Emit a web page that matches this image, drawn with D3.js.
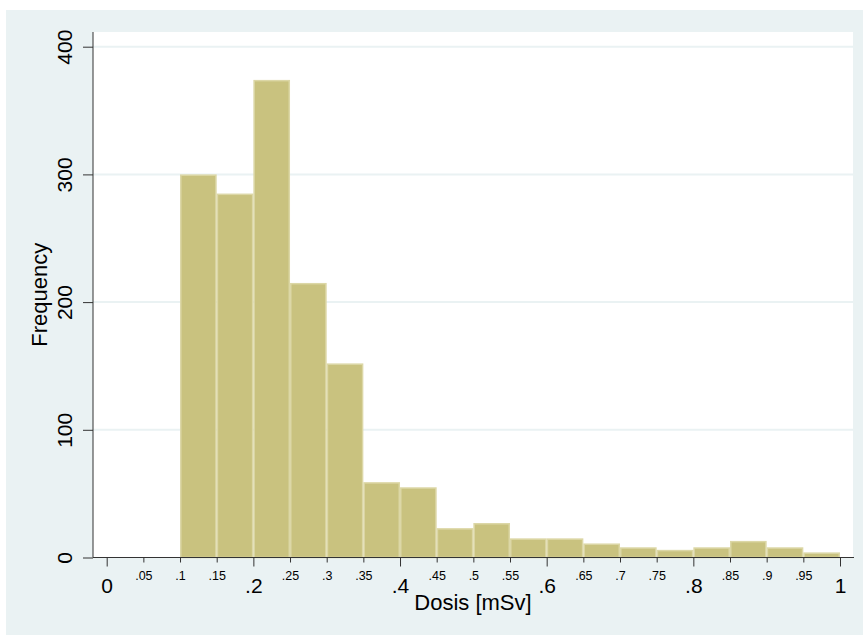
<!DOCTYPE html>
<meta charset="utf-8">
<style>
body { margin: 0; background: #fff; }
text { font-family: "Liberation Sans", Arial, sans-serif; }
</style>
<body>
<script src="https://cdn.jsdelivr.net/npm/d3@7"></script>
<script>
// histogram bins (lower edge, width .05) and counts
var binLo = [0.10, 0.15, 0.20, 0.25, 0.30, 0.35, 0.40, 0.45, 0.50,
             0.55, 0.60, 0.65, 0.70, 0.75, 0.80, 0.85, 0.90, 0.95];
var freq  = [300, 285, 374, 215, 152, 59, 55, 23, 27,
             15, 15, 11, 8, 6, 8, 13, 8, 4];
var binW = 0.05;

var yTicks = [0, 100, 200, 300, 400];
var xMajor = [0, 0.2, 0.4, 0.6, 0.8, 1];
var xMinor = [0.05, 0.1, 0.15, 0.25, 0.3, 0.35, 0.45, 0.5, 0.55,
              0.65, 0.7, 0.75, 0.85, 0.9, 0.95];

var width = 863,
	height = 635,
	plotL = 93,
	plotR = 853,
	plotT = 32,
	plotB = 557.5;

var fmt = function(d) { return d == 0 ? "0" : d == 1 ? "1" : String(d).replace(/^0/, ""); };

var x = d3.scaleLinear().domain([0, 1]).range([106.7, 840]);
var y = d3.scaleLinear().domain([0, 400]).range([plotB, 46.7]);

var svg = d3.select("body").append("svg")
	.attr("width", width)
	.attr("height", height);

// graph region
svg.append("rect")
	.attr("x", 6).attr("y", 10)
	.attr("width", width - 6).attr("height", height - 10)
	.style("fill", "#eaf2f3");

// plot region
svg.append("rect")
	.attr("x", plotL).attr("y", plotT)
	.attr("width", plotR - plotL).attr("height", plotB - plotT)
	.style("fill", "#fff");

// grid
svg.append("g").selectAll("line")
	.data(yTicks.filter(function(d) { return d > 0; }))
	.enter().append("line")
	.attr("x1", plotL).attr("x2", plotR)
	.attr("y1", function(d) { return y(d); })
	.attr("y2", function(d) { return y(d); })
	.style("stroke", "#eaf2f3")
	.style("stroke-width", 2);

// bars
svg.append("g").selectAll("rect")
	.data(freq)
	.enter().append("rect")
	.attr("x", function(d, i) { return x(binLo[i]) + 0.75; })
	.attr("width", function(d, i) { return x(binLo[i] + binW) - x(binLo[i]) - 1.5; })
	.attr("y", function(d) { return y(d) + 0.75; })
	.attr("height", function(d) { return y(0) - y(d) - 0.75; })
	.style("fill", "#c9c27f")
	.style("stroke", "#dcd7a6")
	.style("stroke-width", 1.5);

// y axis
var yAxis = svg.append("g")
	.attr("transform", "translate(" + plotL + ",0)")
	.call(d3.axisLeft(y).tickValues(yTicks).tickSize(10).tickFormat(d3.format("d")));
yAxis.select(".domain").attr("d", "M0," + plotT + "V" + plotB).style("stroke", "#333");
yAxis.selectAll(".tick line").style("stroke", "#333");
yAxis.selectAll(".tick text")
	.attr("x", 0).attr("y", 0).attr("dy", null)
	.attr("transform", "translate(-21,0) rotate(-90)")
	.attr("text-anchor", "middle")
	.style("font-size", "21px")
	.style("fill", "#000");

// x axis, major and minor
var xAxisMaj = svg.append("g")
	.attr("transform", "translate(0," + plotB + ")")
	.call(d3.axisBottom(x).tickValues(xMajor).tickSize(9).tickFormat(fmt));
xAxisMaj.select(".domain").attr("d", "M" + plotL + ",0H" + (plotR + 1)).style("stroke", "#333");
xAxisMaj.selectAll(".tick line").style("stroke", "#333");
xAxisMaj.selectAll(".tick text")
	.attr("y", 35).attr("dy", null)
	.style("font-size", "21px")
	.style("fill", "#000");

var xAxisMin = svg.append("g")
	.attr("transform", "translate(0," + plotB + ")")
	.call(d3.axisBottom(x).tickValues(xMinor).tickSize(5).tickFormat(fmt));
xAxisMin.select(".domain").remove();
xAxisMin.selectAll(".tick line").style("stroke", "#333");
xAxisMin.selectAll(".tick text")
	.attr("y", 22).attr("dy", null)
	.style("font-size", "12.5px")
	.style("fill", "#000");

// titles
svg.append("text")
	.attr("x", (plotL + plotR) / 2)
	.attr("y", 610)
	.attr("text-anchor", "middle")
	.style("font-size", "22px")
	.text("Dosis [mSv]");

svg.append("text")
	.attr("transform", "translate(47," + ((plotT + plotB) / 2) + ") rotate(-90)")
	.attr("text-anchor", "middle")
	.style("font-size", "22px")
	.text("Frequency");
</script>
</body>
